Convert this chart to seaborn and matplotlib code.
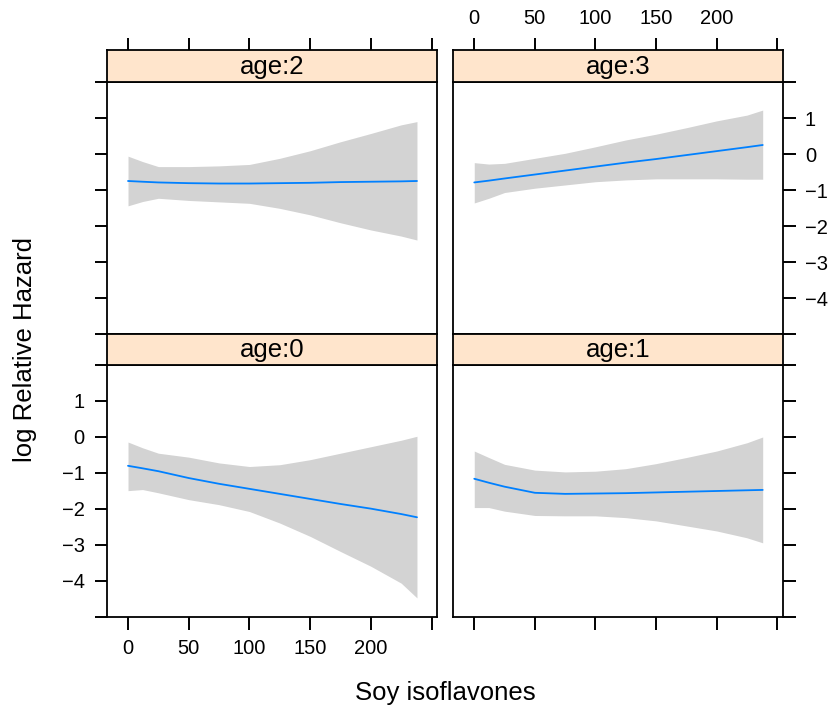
import numpy as np
import pandas as pd
import matplotlib
matplotlib.use("Agg")
import matplotlib.pyplot as plt
import seaborn as sns

sns.set_theme(style="white")
plt.rcParams["font.family"] = ["Liberation Sans", "DejaVu Sans"]

# ---- data ----
x_vals = [0, 12, 25, 50, 75, 100, 125, 150, 175, 200, 225, 238]

fit_age0 = [-0.80, -0.87, -0.95, -1.14, -1.30, -1.44, -1.58, -1.72, -1.86, -1.99, -2.14, -2.23]
hi_age0 = [-0.14, -0.30, -0.45, -0.56, -0.72, -0.82, -0.77, -0.63, -0.45, -0.27, -0.09, 0.02]
lo_age0 = [-1.49, -1.46, -1.55, -1.74, -1.88, -2.07, -2.39, -2.76, -3.18, -3.59, -4.06, -4.47]

fit_age1 = [-1.16, -1.27, -1.38, -1.55, -1.58, -1.57, -1.56, -1.54, -1.52, -1.50, -1.48, -1.47]
hi_age1 = [-0.39, -0.57, -0.76, -0.92, -0.97, -0.95, -0.88, -0.74, -0.57, -0.39, -0.16, 0.00]
lo_age1 = [-1.96, -1.96, -2.06, -2.18, -2.19, -2.19, -2.24, -2.33, -2.47, -2.61, -2.80, -2.94]

fit_age2 = [-0.75, -0.77, -0.79, -0.81, -0.82, -0.82, -0.81, -0.80, -0.78, -0.77, -0.76, -0.75]
hi_age2 = [-0.06, -0.21, -0.35, -0.35, -0.33, -0.29, -0.12, 0.09, 0.34, 0.57, 0.81, 0.90]
lo_age2 = [-1.44, -1.32, -1.23, -1.29, -1.33, -1.37, -1.51, -1.69, -1.91, -2.11, -2.28, -2.39]

fit_age3 = [-0.79, -0.74, -0.68, -0.57, -0.46, -0.35, -0.24, -0.14, -0.03, 0.08, 0.19, 0.25]
hi_age3 = [-0.24, -0.28, -0.26, -0.12, 0.02, 0.20, 0.39, 0.55, 0.73, 0.92, 1.08, 1.22]
lo_age3 = [-1.36, -1.23, -1.07, -0.95, -0.86, -0.77, -0.72, -0.69, -0.69, -0.69, -0.70, -0.70]

x_ticks = [0, 50, 100, 150, 200, 250]
x_ticklabels = ["0", "50", "100", "150", "200", ""]
y_ticks = [-5, -4, -3, -2, -1, 0, 1, 2]
y_ticklabels = ["", "\u22124", "\u22123", "\u22122", "\u22121", "0", "1", ""]

strip_color = "#ffe5cc"
band_color = "#d3d3d3"
line_color = "#0080ff"

W, H = 835, 713
fig = plt.figure(figsize=(W / 100, H / 100), dpi=100)


def fr(x0, y0, x1, y1):
    # pixel box (top-left origin) -> figure fraction rect
    return [x0 / W, (H - y1) / H, (x1 - x0) / W, (y1 - y0) / H]


XL = (-17.3, 254.5)
YL = (-5.0, 2.0)
TICK = dict(direction="out", length=9, width=1.4, colors="black",
            labelsize=14.5, pad=7, labelcolor="black")


def panel(px, strip_py, plot_py, name, fit, lo, hi, col, row):
    x0, x1 = px
    ax = fig.add_axes(fr(x0, plot_py[0], x1, plot_py[1]))
    sax = fig.add_axes(fr(x0, strip_py[0], x1, strip_py[1]))
    ax.fill_between(x_vals, lo, hi, color=band_color, lw=0, zorder=1)
    df = pd.DataFrame({"x": x_vals, "fit": fit})
    sns.lineplot(data=df, x="x", y="fit", ax=ax, color=line_color, lw=1.3,
                 zorder=2, errorbar=None)
    ax.set_xlim(*XL)
    ax.set_ylim(*YL)
    ax.set_xlabel("")
    ax.set_ylabel("")
    for a in (ax, sax):
        a.set_facecolor("white")
        for s in a.spines.values():
            s.set_color("black")
            s.set_linewidth(1.3)
            s.set_visible(True)
    sax.set_facecolor(strip_color)
    sax.set_xlim(*XL)
    sax.set_ylim(0, 1)
    sax.set_yticks([])
    sax.text(0.5, 0.47, name, transform=sax.transAxes, ha="center",
             va="center", fontsize=18.5, color="black")
    ax.tick_params(**TICK)
    sax.tick_params(**TICK)
    # y ticks
    ax.set_yticks(y_ticks)
    if col == 0:
        ax.yaxis.set_ticks_position("left")
        ax.set_yticklabels(y_ticklabels if row == 1 else [""] * len(y_ticks))
    else:
        ax.yaxis.set_ticks_position("right")
        ax.set_yticklabels(y_ticklabels if row == 0 else [""] * len(y_ticks))
    # x ticks
    if row == 1:
        ax.xaxis.set_ticks_position("bottom")
        ax.set_xticks(x_ticks)
        ax.set_xticklabels(x_ticklabels if col == 0 else [""] * len(x_ticks))
        sax.set_xticks([])
    else:
        ax.set_xticks([])
        sax.xaxis.set_ticks_position("top")
        sax.set_xticks(x_ticks)
        sax.set_xticklabels(x_ticklabels if col == 1 else [""] * len(x_ticks))


left_px = (107, 437)
right_px = (453.3, 782.7)
top_strip = (50, 82)
top_plot = (82, 334)
bot_strip = (334, 365)
bot_plot = (365, 617)

panel(left_px, top_strip, top_plot, "age:2", fit_age2, lo_age2, hi_age2, 0, 0)
panel(right_px, top_strip, top_plot, "age:3", fit_age3, lo_age3, hi_age3, 1, 0)
panel(left_px, bot_strip, bot_plot, "age:0", fit_age0, lo_age0, hi_age0, 0, 1)
panel(right_px, bot_strip, bot_plot, "age:1", fit_age1, lo_age1, hi_age1, 1, 1)

fig.text(445 / W, 1 - 693 / H, "Soy isoflavones", ha="center", va="center",
         fontsize=18.5, color="black")
fig.text(25 / W, 1 - 350 / H, "log Relative Hazard", ha="center", va="center",
         rotation=90, fontsize=18.5, color="black")

fig.savefig("out.png", dpi=100, facecolor="white")
